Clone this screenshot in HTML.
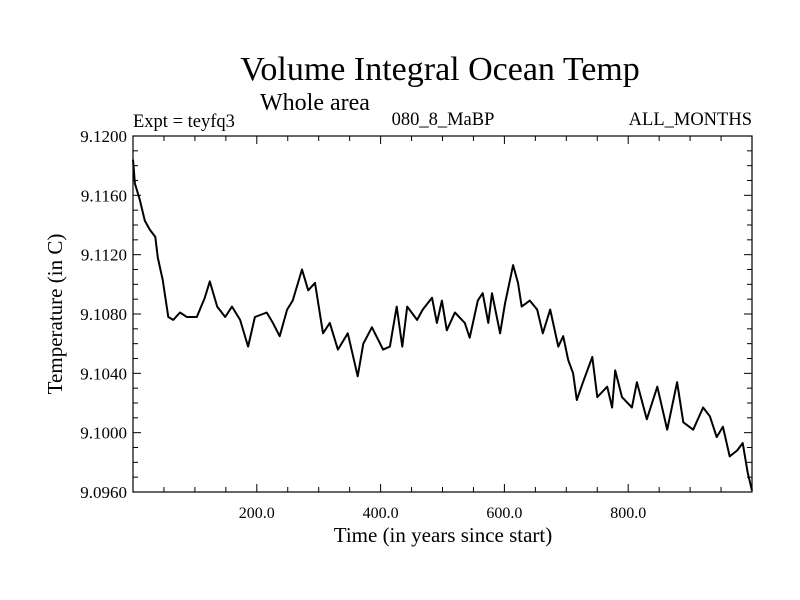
<!DOCTYPE html>
<html><head><meta charset="utf-8"><style>
html,body{margin:0;padding:0;background:#fff;}
svg{display:block;font-family:"Liberation Serif",serif;}
</style></head><body>
<svg id="chart" width="800" height="600">
<text x="440" y="80" font-size="34" text-anchor="middle">Volume Integral Ocean Temp</text>
<text x="260" y="110" font-size="24">Whole area</text>
<text x="133" y="127" font-size="18.5">Expt = teyfq3</text>
<text x="443" y="125" font-size="18.5" text-anchor="middle">080_8_MaBP</text>
<text x="752" y="125" font-size="18.5" text-anchor="end">ALL_MONTHS</text>
<text x="443" y="542" font-size="21" text-anchor="middle">Time (in years since start)</text>
<text x="0" y="0" font-size="21" text-anchor="middle" transform="translate(62,314) rotate(-90)">Temperature (in C)</text>
<g id="axes"></g>
<path id="series" fill="none" stroke="#000" stroke-width="2" stroke-linejoin="round"></path>
<rect x="133" y="136" width="619" height="356" fill="none" stroke="#000" stroke-width="1.2"></rect>
</svg>
<script>
const years=[0,3,11,19,27,36,40,48,57,65,76,87,103,116,124,136,149,160,173,186,197,216,226,237,249,258,273,283,294,307,318,331,347,363,372,386,404,415,426,435,443,459,468,483,491,499,507,520,536,544,557,565,574,580,593,601,609,614,622,628,641,653,662,674,687,695,703,711,717,727,742,750,766,774,779,790,806,814,830,847,863,879,889,905,921,932,943,953,964,976,985,993,1000];
const temps=[9.1184,9.1168,9.1157,9.1143,9.1137,9.1132,9.1118,9.1103,9.1078,9.1076,9.1081,9.1078,9.1078,9.1091,9.1102,9.1085,9.1078,9.1085,9.1076,9.1058,9.1078,9.1081,9.1074,9.1065,9.1083,9.1089,9.1110,9.1096,9.1101,9.1067,9.1074,9.1056,9.1067,9.1038,9.1060,9.1071,9.1056,9.1058,9.1085,9.1058,9.1085,9.1076,9.1083,9.1091,9.1074,9.1089,9.1069,9.1081,9.1074,9.1064,9.1089,9.1094,9.1074,9.1094,9.1067,9.1087,9.1103,9.1113,9.1101,9.1085,9.1089,9.1083,9.1067,9.1083,9.1058,9.1065,9.1049,9.1040,9.1022,9.1034,9.1051,9.1024,9.1031,9.1017,9.1042,9.1024,9.1017,9.1034,9.1009,9.1031,9.1002,9.1034,9.1007,9.1002,9.1017,9.1011,9.0997,9.1004,9.0984,9.0988,9.0993,9.0973,9.0961];
const xTickLabels=[200,400,600,800];
const yTickLabels=[9.0960,9.1000,9.1040,9.1080,9.1120,9.1160,9.1200];
const X0=133,X1=752,Y0=492,Y1=136;
function xs(t){return X0+(t-0)/1000*(X1-X0);}
function ys(v){return Y0-(v-9.096)/0.024*(Y0-Y1);}
const NS="http://www.w3.org/2000/svg";
const axes=document.getElementById('axes');
function line(x1,y1,x2,y2,name){const l=document.createElementNS(NS,'line');l.setAttribute('x1',x1);l.setAttribute('y1',y1);l.setAttribute('x2',x2);l.setAttribute('y2',y2);l.setAttribute('stroke','#000');


axes.appendChild(l);}
for(let t=50;t<1000;t+=50){const x=xs(t);const maj=t%200===0;line(x,Y0,x,Y0-(maj?8:5),'x-tick');line(x,Y1,x,Y1+(maj?8:5),'x-tick-top');}
xTickLabels.forEach(t=>{const e=document.createElementNS(NS,'text');e.setAttribute('x',xs(t));e.setAttribute('y',Y0+26);e.setAttribute('font-size','16');e.setAttribute('text-anchor','middle');e.textContent=t.toFixed(1);


axes.appendChild(e);});
for(let k=0;k<=24;k++){const v=9.096+k*0.001;const y=ys(v);const maj=k%4===0;line(X0,y,X0+(maj?8:5),y,'y-tick');line(X1,y,X1-(maj?8:5),y,'y-tick-right');}
yTickLabels.forEach(v=>{const e=document.createElementNS(NS,'text');e.setAttribute('x',X0-6);e.setAttribute('y',ys(v)+6);e.setAttribute('font-size','17');e.setAttribute('text-anchor','end');e.textContent=v.toFixed(4);


axes.appendChild(e);});
document.getElementById('series').setAttribute('d',years.map((t,i)=>(i?'L':'M')+xs(t).toFixed(1)+','+ys(temps[i]).toFixed(1)).join(''));
</script>
</body></html>
